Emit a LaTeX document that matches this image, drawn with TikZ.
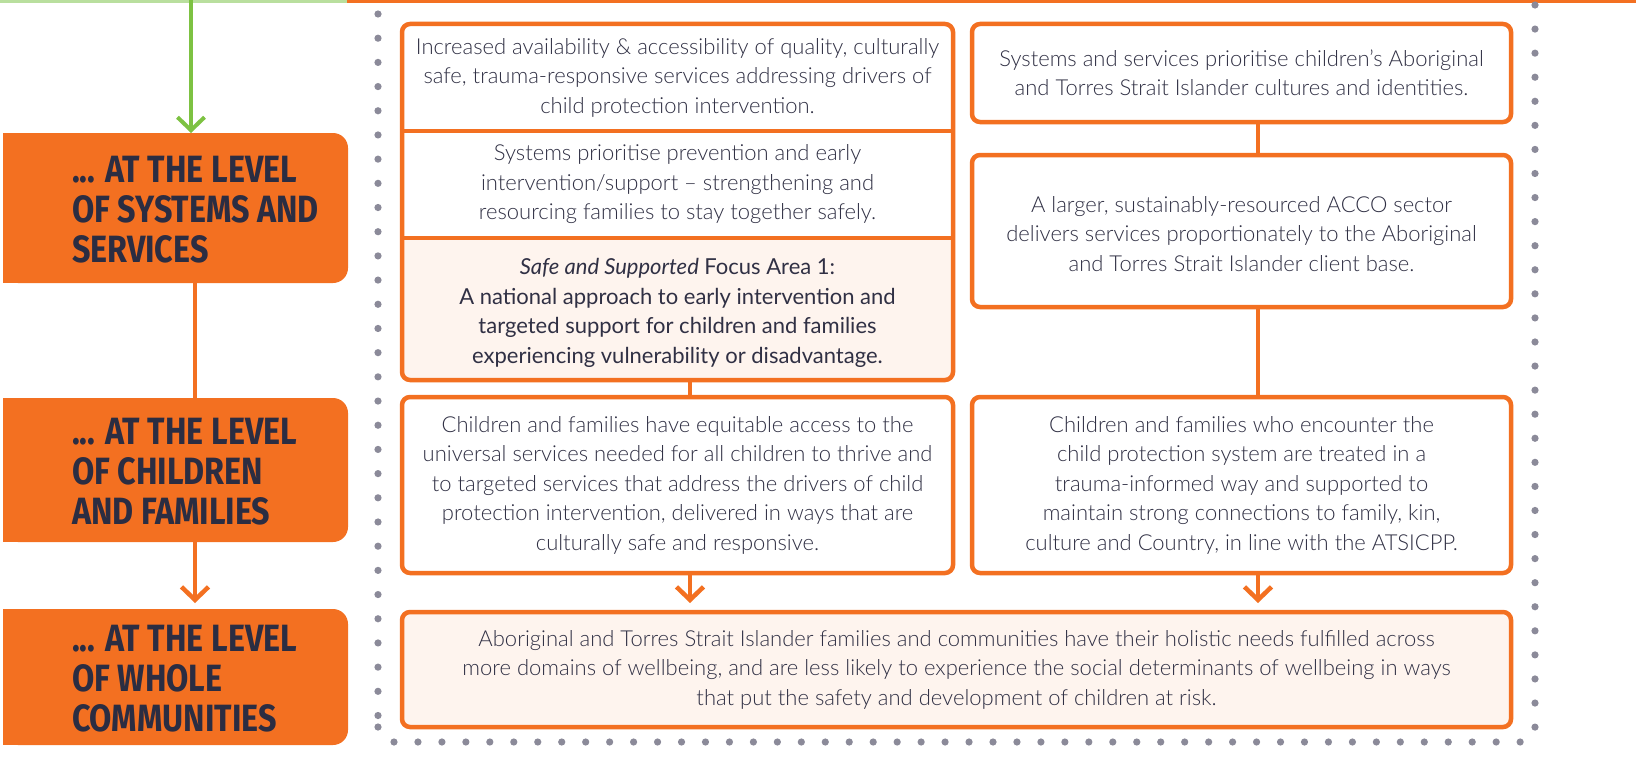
\documentclass[tikz,border=0pt]{standalone}
\usepackage{fontspec}
\setmainfont{Lato}[UprightFont=* Light, ItalicFont=* Light Italic, BoldFont=*, BoldItalicFont=* Italic]
\newfontfamily\lblfont{Fira Sans}[FakeStretch=0.85]
\usetikzlibrary{arrows.meta}
\definecolor{orng}{HTML}{F37021}
\definecolor{peach}{HTML}{FEF4EE}
\definecolor{txt}{HTML}{303044}
\definecolor{lbltxt}{HTML}{2B2D42}
\definecolor{dotc}{HTML}{8B8A99}
\definecolor{grn}{HTML}{7DC242}
\definecolor{lgrn}{HTML}{B9DF9E}
\begin{document}
\begin{tikzpicture}[x=1pt,y=-1pt,
 every node/.style={inner sep=0pt, outer sep=0pt},
 obox/.style={draw=orng, line width=4.5pt, rounded corners=8pt},
 txtn/.style={text=txt, font=\fontsize{22}{29.5}\selectfont, align=center},
 txtb/.style={text=txt, font=\fontsize{22}{29.5}\selectfont\bfseries, align=center},
 lbl/.style={fill=orng, rounded corners=15pt},
 lbltext/.style={text=lbltxt, font=\lblfont\bfseries\fontsize{38}{40}\selectfont, align=left, anchor=west},
 conn/.style={draw=orng, line width=4.5pt},
 arr/.style={conn, -{Straight Barb[length=13pt,width=27pt]}},
 garr/.style={draw=grn, line width=4pt, -{Straight Barb[length=13pt,width=27pt]}}
]
\useasboundingbox (0,0) rectangle (1636,760);
\fill[white] (0,0) rectangle (1636,760);
% top rule
\fill[lgrn] (0,0) rectangle (347,3);
\fill[orng] (347,0) rectangle (1636,3);
% dotted frame
\foreach \i in {0,...,29} \fill[dotc] (378,{14+24.19*\i}) circle (3.6pt);
\fill[dotc] (378,727) circle (3.6pt);
\foreach \i in {0,...,30} \fill[dotc] (1535,{5+24.07*\i}) circle (3.6pt);
\foreach \i in {0,...,47} \fill[dotc] ({394+23.96*\i},742) circle (3.6pt);
% left label boxes
\fill[orng] (3,133) rectangle (30,283);
\fill[orng] (3,398) rectangle (30,542);
\fill[orng] (3,609) rectangle (30,745);
\node[lbl, minimum width=345pt, minimum height=150pt] (S1) at (175.5,208) {};
\node[lbl, minimum width=345pt, minimum height=144pt] (S2) at (175.5,470) {};
\node[lbl, minimum width=345pt, minimum height=136pt] (S3) at (175.5,677) {};
\node[lbltext] (S1t) at (72,210) {... AT THE LEVEL\\OF SYSTEMS AND\\SERVICES};
\node[lbltext] (S2t) at (72,472) {... AT THE LEVEL\\OF CHILDREN\\AND FAMILIES};
\node[lbltext] (S3t) at (72,679) {... AT THE LEVEL\\OF WHOLE\\COMMUNITIES};
\coordinate (gtop) at (191,0);
\coordinate (lx) at (195,0);
\draw[garr] (gtop) -- (gtop |- S1.north);
\draw[conn] (lx |- S1.south) -- (lx |- S2.north);
\draw[arr, shorten >=6pt] (lx |- S2.south) -- (lx |- S3.north);
% left top group
\begin{scope}
\clip (402,238) rectangle (953,400);
\fill[peach, rounded corners=8pt] (402,200) rectangle (953,380);
\end{scope}
\node[obox, minimum width=551pt, minimum height=356pt] (L1) at (677.5,202) {};
\node[txtn, minimum width=551pt, minimum height=107pt] (L1a) at (677.5,77.5) {Increased availability \& accessibility of quality, culturally\\safe, trauma-responsive services addressing drivers of\\child protection intervention.};
\node[txtn, minimum width=551pt, minimum height=107pt] (L1b) at (677.5,184.5) {Systems prioritise prevention and early\\intervention/support -- strengthening and\\resourcing families to stay together safely.};
\node[txtb, minimum width=551pt, minimum height=142pt] (L1c) at (677.5,309) {};
\node[txtb] (L1ct) at (677.5,313) {\textit{Safe and Supported} Focus Area 1:\\A national approach to early intervention and\\targeted support for children and families\\experiencing vulnerability or disadvantage.};
\draw[conn] (L1a.south west) -- (L1a.south east);
\draw[conn] (L1b.south west) -- (L1b.south east);
% right top
\node[obox, txtn, minimum width=539pt, minimum height=98pt] (R1) at (1241.5,73) {Systems and services prioritise children’s Aboriginal\\and Torres Strait Islander cultures and identities.};
\node[obox, minimum width=539pt, minimum height=152pt] (R2) at (1241.5,231) {};
\node[txtn] (R2t) at (1241.5,234) {A larger, sustainably-resourced ACCO sector\\delivers services proportionately to the Aboriginal\\and Torres Strait Islander client base.};
% second row
\node[obox, txtn, minimum width=551pt, minimum height=176pt] (L4) at (677.5,485) {Children and families have equitable access to the\\universal services needed for all children to thrive and\\to targeted services that address the drivers of child\\protection intervention, delivered in ways that are\\culturally safe and responsive.};
\node[obox, txtn, minimum width=539pt, minimum height=176pt] (R4) at (1241.5,485) {Children and families who encounter the\\child protection system are treated in a\\trauma-informed way and supported to\\maintain strong connections to family, kin,\\culture and Country, in line with the ATSICPP.};
% bottom
\node[obox, txtn, fill=peach, minimum width=1109pt, minimum height=115pt] (B) at (956.5,669.5) {Aboriginal and Torres Strait Islander families and communities have their holistic needs fulfilled across\\more domains of wellbeing, and are less likely to experience the social determinants of wellbeing in ways\\that put the safety and development of children at risk.};
% connectors
\coordinate (cl) at (690,0);
\coordinate (cr) at (1258,0);
\draw[conn] (cl |- L1.south) -- (cl |- L4.north);
\draw[arr, shorten >=9pt] (cl |- L4.south) -- (cl |- B.north);
\draw[conn] (cr |- R1.south) -- (cr |- R2.north);
\draw[conn] (cr |- R2.south) -- (cr |- R4.north);
\draw[arr, shorten >=9pt] (cr |- R4.south) -- (cr |- B.north);
\end{tikzpicture}
\end{document}
